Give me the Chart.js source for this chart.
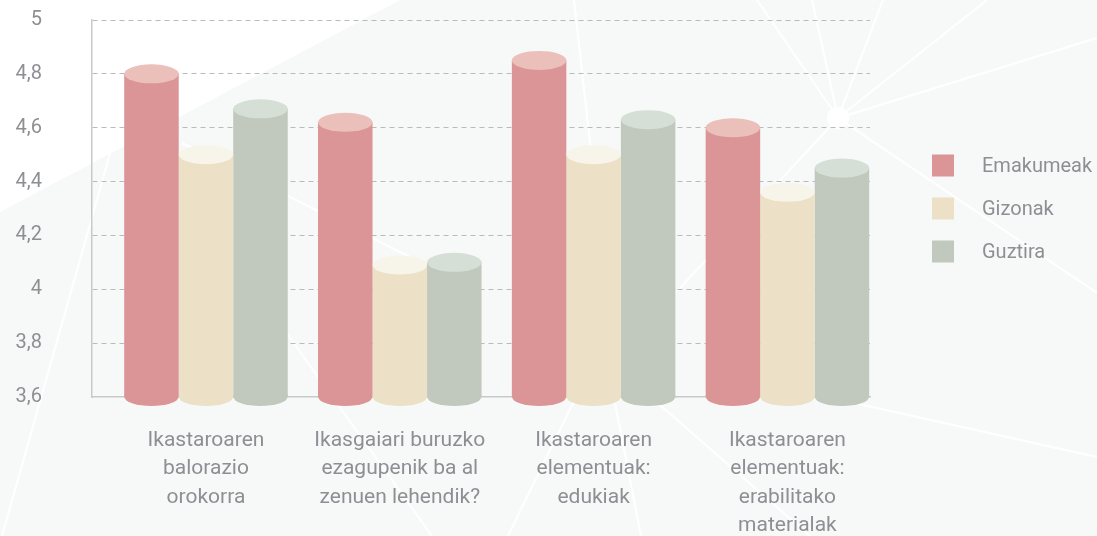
<!DOCTYPE html>
<html>
<head>
<meta charset="utf-8">
<script src="https://cdn.jsdelivr.net/npm/chart.js@4.4.1/dist/chart.umd.min.js"></script>
<style>
  html, body { margin: 0; padding: 0; background: #f7f9f9; }
  #wrap { position: relative; width: 1097px; height: 536px; }
</style>
</head>
<body>
<div id="wrap"><canvas id="chart"></canvas></div>
<script>
// Chart values
const categories = [
    ['Ikastaroaren', 'balorazio', 'orokorra'],
    ['Ikasgaiari buruzko', 'ezagupenik ba al', 'zenuen lehendik?'],
    ['Ikastaroaren', 'elementuak:', 'edukiak'],
    ['Ikastaroaren', 'elementuak:', 'erabilitako', 'materialak']
];
const emakumeak = [4.8, 4.62, 4.85, 4.6];
const gizonak = [4.5, 4.09, 4.5, 4.36];
const guztira = [4.67, 4.1, 4.63, 4.45];
const yTicks = [3.6, 3.8, 4, 4.2, 4.4, 4.6, 4.8, 5];

const seriesNames = ['Emakumeak', 'Gizonak', 'Guztira'];
const bodyColors = ['#dc9597', '#ece0c6', '#c1c8bd'];
const capColors = ['#ebbfba', '#f7f4e9', '#d6dfd6'];
const textColor = '#8e8f93';
const fontFamily = 'Roboto, "Open Sans", sans-serif';

// Light backdrop with the white line pattern
const backdrop = {
    id: 'backdrop',
    beforeDraw(chart) {
        const ctx = chart.ctx;
        ctx.save();
        ctx.fillStyle = '#f7f9f9';
        ctx.fillRect(0, 0, chart.width, chart.height);
        ctx.fillStyle = '#ffffff';
        ctx.beginPath();
        ctx.moveTo(0, 0);
        ctx.lineTo(400, 0);
        ctx.lineTo(0, 212);
        ctx.closePath();
        ctx.fill();

        const lines = [
            [[2, 536], [111, 150]],
            [[182, 143], [440, 272]],
            [[245, 275], [432, 536]],
            [[838, 118], [757, 0]],
            [[838, 118], [812, 0]],
            [[838, 118], [883, 0]],
            [[838, 118], [987, 0]],
            [[838, 118], [1097, 38]],
            [[838, 118], [1097, 293]],
            [[838, 118], [573, 403], [508, 536]],
            [[574, 0], [592, 160]],
            [[615, 403], [641, 536]],
            [[660, 405], [810, 536]],
            [[850, 402], [1097, 457]]
        ];
        ctx.strokeStyle = '#ffffff';
        ctx.lineWidth = 2;
        lines.forEach(pts => {
            ctx.beginPath();
            ctx.moveTo(pts[0][0], pts[0][1]);
            for (let k = 1; k < pts.length; k++) ctx.lineTo(pts[k][0], pts[k][1]);
            ctx.stroke();
        });
        ctx.beginPath();
        ctx.arc(838, 118, 11, 0, Math.PI * 2);
        ctx.fill();
        ctx.restore();
    }
};

// Turn flat bars into cylinders: bottom ellipse + lighter top cap
const cylinders = {
    id: 'cylinders',
    afterDatasetsDraw(chart) {
        const ctx = chart.ctx;
        ctx.save();
        chart.data.datasets.forEach((ds, i) => {
            chart.getDatasetMeta(i).data.forEach(bar => {
                const { x, y, base, width } = bar.getProps(['x', 'y', 'base', 'width'], true);
                const rx = width / 2;
                const ry = 9.5;
                ctx.fillStyle = bodyColors[i];
                ctx.beginPath();
                ctx.ellipse(x, base, rx, ry, 0, 0, Math.PI * 2);
                ctx.fill();
                ctx.fillStyle = capColors[i];
                ctx.beginPath();
                ctx.ellipse(x, y, rx, ry, 0, 0, Math.PI * 2);
                ctx.fill();
            });
        });
        ctx.restore();
    }
};

// Legend on the right, centred on the plot
const sideLegend = {
    id: 'sideLegend',
    afterDraw(chart) {
        const { ctx, chartArea } = chart;
        const mid = (chartArea.top + chartArea.bottom) / 2;
        ctx.save();
        ctx.font = '20px ' + fontFamily;
        ctx.textBaseline = 'middle';
        chart.data.datasets.forEach((ds, i) => {
            const cy = mid + (i - 1) * 43;
            ctx.fillStyle = bodyColors[i];
            ctx.fillRect(chartArea.right + 62, cy - 11, 22, 22);
            ctx.fillStyle = textColor;
            ctx.fillText(ds.label, chartArea.right + 112, cy + 1);
        });
        ctx.restore();
    }
};

function toPoints(values) {
    return values.map((v, i) => ({ x: i, y: v }));
}

// keep the label overflow out of the layout, the plot box is fixed
function noPadding(scale) {
    scale.paddingTop = 0;
    scale.paddingBottom = 0;
    scale.paddingLeft = 0;
    scale.paddingRight = 0;
}

const ctx = document.getElementById('chart').getContext('2d');
new Chart(ctx, {
    type: 'bar',
    data: {
        datasets: [emakumeak, gizonak, guztira].map((vals, i) => ({
            label: seriesNames[i],
            data: toPoints(vals),
            base: yTicks[0],
            backgroundColor: bodyColors[i],
            borderWidth: 0,
            categoryPercentage: 0.8437,
            barPercentage: 1
        }))
    },
    options: {
        responsive: true,
        maintainAspectRatio: false,
        animation: false,
        layout: { padding: { top: 20, right: 227, bottom: 0, left: 0 } },
        plugins: {
            legend: { display: false },
            tooltip: { enabled: false }
        },
        scales: {
            x: {
                type: 'linear',
                offset: false,
                min: -0.588,
                max: 3.426,
                afterBuildTicks: scale => {
                    scale.ticks = categories.map((c, i) => ({ value: i }));
                },
                afterFit: scale => {
                    scale.height = 139;
                    noPadding(scale);
                },
                grid: { display: false, offset: false },
                border: { display: true, color: '#c8c9cd', width: 1.5 },
                ticks: {
                    autoSkip: false,
                    maxRotation: 0,
                    padding: 21,
                    color: textColor,
                    font: { family: fontFamily, size: 21, lineHeight: 1.36 },
                    callback: v => categories[v]
                }
            },
            y: {
                min: 3.6,
                max: 5,
                afterBuildTicks: scale => {
                    scale.ticks = yTicks.map(v => ({ value: v }));
                },
                afterFit: scale => {
                    scale.width = 92;
                    noPadding(scale);
                },
                grid: {
                    drawTicks: false,
                    color: c => (c.tick && c.tick.value === yTicks[0]) ? 'rgba(0,0,0,0)' : '#b9babb',
                    lineWidth: 1
                },
                border: { display: true, color: '#c8c9cd', width: 1.5, dash: [5, 4] },
                ticks: {
                    padding: 50,
                    color: textColor,
                    font: { family: fontFamily, size: 20 },
                    callback: v => String(v).replace('.', ',')
                }
            }
        }
    },
    plugins: [backdrop, cylinders, sideLegend]
});
</script>
</body>
</html>
